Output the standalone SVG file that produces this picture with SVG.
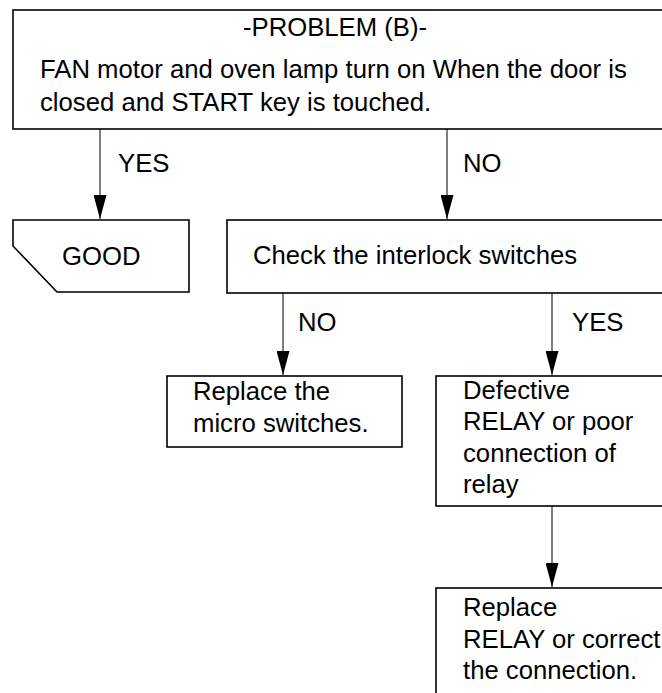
<svg xmlns="http://www.w3.org/2000/svg" width="662" height="693" viewBox="0 0 662 693">
<defs>
<style>
.box{fill:#fff;stroke:#000;stroke-width:1.6}
.t{font-family:"Liberation Sans",Arial,sans-serif;font-size:25.7px;fill:#000}
.c{stroke:#000;stroke-width:1;fill:none}
</style>
<marker id="ah" viewBox="0 0 24 13" refX="24" refY="6.5" markerWidth="24" markerHeight="13" markerUnits="userSpaceOnUse" orient="auto">
<path d="M0,0 L24,6.5 L0,13 Z" fill="#000"/>
</marker>
</defs>
<rect width="662" height="693" fill="#fff"/>
<g id="problem">
<rect class="box" x="13" y="10" width="670" height="119"/>
<text class="t" x="335" y="36" text-anchor="middle">-PROBLEM (B)-</text>
<text class="t" x="40" y="78">FAN motor and oven lamp turn on When the door is</text>
<text class="t" x="40" y="111">closed and START key is touched.</text>
</g>
<g id="good">
<path class="box" d="M13,220 L189,220 L189,292 L57,292 L13,246 Z"/>
<text class="t" x="62" y="265">GOOD</text>
</g>
<g id="check">
<rect class="box" x="227" y="220" width="460" height="73"/>
<text class="t" x="253" y="264">Check the interlock switches</text>
</g>
<g id="replace-micro">
<rect class="box" x="167" y="376" width="235" height="71"/>
<text class="t" x="193" y="400">Replace the</text>
<text class="t" x="193" y="432">micro switches.</text>
</g>
<g id="defective">
<rect class="box" x="436" y="376" width="250" height="130"/>
<text class="t" x="463" y="399">Defective</text>
<text class="t" x="463" y="430">RELAY or poor</text>
<text class="t" x="463" y="462">connection of</text>
<text class="t" x="463" y="493">relay</text>
</g>
<g id="replace-relay">
<rect class="box" x="436" y="588" width="250" height="130"/>
<text class="t" x="463" y="616">Replace</text>
<text class="t" x="463" y="648">RELAY or correct</text>
<text class="t" x="463" y="679">the connection.</text>
</g>
<g id="connectors">
<line class="c" x1="100" y1="129" x2="100" y2="219" marker-end="url(#ah)"/>
<line class="c" x1="447" y1="129" x2="447" y2="219" marker-end="url(#ah)"/>
<line class="c" x1="283" y1="293" x2="283" y2="375" marker-end="url(#ah)"/>
<line class="c" x1="552" y1="293" x2="552" y2="375" marker-end="url(#ah)"/>
<line class="c" x1="552" y1="506" x2="552" y2="587" marker-end="url(#ah)"/>
<text class="t" x="118" y="172">YES</text>
<text class="t" x="463" y="172">NO</text>
<text class="t" x="298" y="331">NO</text>
<text class="t" x="572" y="331">YES</text>
</g>
</svg>
